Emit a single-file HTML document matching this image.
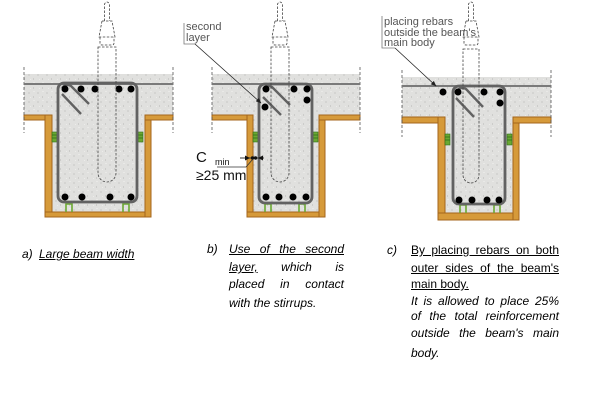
<!DOCTYPE html>
<html><head><meta charset="utf-8"><style>
html,body{margin:0;padding:0;background:#fff;}
#w{position:relative;width:600px;height:400px;overflow:hidden;background:#fff;}
svg{position:absolute;left:0;top:0;}
.t{position:absolute;font-family:"Liberation Sans",Arial,sans-serif;font-size:12px;line-height:14px;color:#000;white-space:nowrap;}
.i{font-style:italic;}
.j{text-align:justify;text-align-last:justify;white-space:normal;}
.u{text-decoration:underline;}
</style></head><body><div id="w">
<svg width="600" height="400" viewBox="0 0 600 400" xmlns="http://www.w3.org/2000/svg">
<defs>
<pattern id="cc" width="9" height="9" patternUnits="userSpaceOnUse">
<rect width="9" height="9" fill="#e0e0de"/>
<circle cx="2" cy="3" r="0.6" fill="#b5b5b3"/>
<circle cx="6.5" cy="7" r="0.5" fill="#a9a9a7"/>
<circle cx="7" cy="1.5" r="0.6" fill="#f2f2f0"/>
<circle cx="3.5" cy="7.5" r="0.5" fill="#f0f0ee"/>
</pattern>
<marker id="ah" viewBox="0 0 10 10" refX="9" refY="5" markerWidth="7" markerHeight="7" orient="auto"><path d="M0,1 L10,5 L0,9 Z" fill="#222"/></marker>
</defs>

<!-- ===== Beam a ===== -->
<path d="M24,74 H173 V115 H145 V212 H52 V115 H24 Z" fill="url(#cc)"/>
<g fill="#d69a3a" stroke="#a4661c" stroke-width="1">
<rect x="24" y="115" width="28" height="5"/>
<rect x="45" y="115" width="7" height="102"/>
<rect x="45" y="212" width="106" height="5"/>
<rect x="145" y="115" width="6" height="102"/>
<rect x="145" y="115" width="28" height="5"/>
</g>
<g stroke="#555" stroke-width="0.8" stroke-dasharray="3,2"><line x1="24" y1="67" x2="24" y2="133"/><line x1="173" y1="67" x2="173" y2="133"/></g>
<line x1="24" y1="84" x2="173" y2="84" stroke="#7a7a7a" stroke-width="2"/>
<g fill="#6aa832" stroke="#2f6e1a" stroke-width="0.6"><rect x="52" y="132" width="5" height="10"/><rect x="138" y="132" width="5" height="10"/></g>
<g stroke="#2f6e1a" stroke-width="0.8"><line x1="52" y1="135" x2="57" y2="135"/><line x1="52" y1="138" x2="57" y2="138"/><line x1="138" y1="135" x2="143" y2="135"/><line x1="138" y1="138" x2="143" y2="138"/></g>
<g fill="none" stroke="#6aa832" stroke-width="1.6"><path d="M66,212 V204 H72 V212"/><path d="M123,212 V204 H129 V212"/></g>
<rect x="58" y="83" width="79" height="119" rx="6" fill="none" stroke="#626262" stroke-width="2.8"/>
<g fill="none" stroke="#626262" stroke-width="2.4"><path d="M62,88 Q66,83 71,86 L89,104"/><path d="M62,94 L81,114"/></g>
<g fill="#000"><circle cx="65" cy="89" r="3.5"/><circle cx="81" cy="89" r="3.5"/><circle cx="95" cy="89" r="3.5"/><circle cx="119" cy="89" r="3.5"/><circle cx="131" cy="89" r="3.5"/>
<circle cx="65" cy="197" r="3.5"/><circle cx="82" cy="197" r="3.5"/><circle cx="110" cy="197" r="3.5"/><circle cx="131" cy="197" r="3.5"/></g>
<g fill="none" stroke="#444" stroke-width="0.8" stroke-dasharray="2.5,1.5">
<path d="M104.5,21 V4 Q107,0 109.5,4 V21"/>
<path d="M102,21 H112 L115,37 H99 Z"/>
<path d="M100,37 V43 Q100,45 102,45 H112 Q114,45 114,43 V37"/>
<path d="M98,47 H116 V173 A9,9 0 0 1 98,173 Z"/>
</g>

<!-- ===== Beam b ===== -->
<path d="M212,74 H360 V115 H319 V212 H253 V115 H212 Z" fill="url(#cc)"/>
<g fill="#d69a3a" stroke="#a4661c" stroke-width="1">
<rect x="212" y="115" width="41" height="5"/>
<rect x="247" y="115" width="6" height="102"/>
<rect x="247" y="212" width="78" height="5"/>
<rect x="319" y="115" width="6" height="102"/>
<rect x="319" y="115" width="41" height="5"/>
</g>
<g stroke="#555" stroke-width="0.8" stroke-dasharray="3,2"><line x1="212" y1="67" x2="212" y2="133"/><line x1="360" y1="67" x2="360" y2="133"/></g>
<line x1="212" y1="84" x2="360" y2="84" stroke="#7a7a7a" stroke-width="2"/>
<g fill="#6aa832" stroke="#2f6e1a" stroke-width="0.6"><rect x="253" y="132" width="5" height="10"/><rect x="313" y="132" width="5" height="10"/></g>
<g stroke="#2f6e1a" stroke-width="0.8"><line x1="253" y1="135" x2="258" y2="135"/><line x1="253" y1="138" x2="258" y2="138"/><line x1="313" y1="135" x2="318" y2="135"/><line x1="313" y1="138" x2="318" y2="138"/></g>
<g fill="none" stroke="#6aa832" stroke-width="1.6"><path d="M265,212 V204 H271 V212"/><path d="M299,212 V204 H305 V212"/></g>
<rect x="259" y="84" width="53" height="119" rx="6" fill="none" stroke="#626262" stroke-width="2.8"/>
<g fill="none" stroke="#626262" stroke-width="2.4"><path d="M263,89 Q267,84 272,87 L290,105"/><path d="M263,97 L281,115"/></g>
<g fill="#000"><circle cx="266" cy="89" r="3.5"/><circle cx="294" cy="89" r="3.5"/><circle cx="307" cy="89" r="3.5"/><circle cx="307" cy="100" r="3.5"/><circle cx="265" cy="107" r="3.5"/>
<circle cx="266" cy="197" r="3.5"/><circle cx="279" cy="197" r="3.5"/><circle cx="293" cy="197" r="3.5"/><circle cx="306" cy="197" r="3.5"/></g>
<g fill="none" stroke="#444" stroke-width="0.8" stroke-dasharray="2.5,1.5">
<path d="M277.5,21 V4 Q280,0 282.5,4 V21"/>
<path d="M275,21 H285 L288,37 H272 Z"/>
<path d="M273,37 V43 Q273,45 275,45 H285 Q287,45 287,43 V37"/>
<path d="M271,47 H289 V173 A9,9 0 0 1 271,173 Z"/>
</g>
<!-- second layer label -->
<g font-family="Liberation Sans, Arial, sans-serif" font-size="11" fill="#555"><text x="186" y="30">second</text><text x="186" y="41">layer</text></g>
<polyline points="184,23 184,44 195,44" fill="none" stroke="#777" stroke-width="0.8"/>
<line x1="195" y1="44" x2="261" y2="103" stroke="#222" stroke-width="0.8" marker-end="url(#ah)"/>
<!-- Cmin -->
<g font-family="Liberation Sans, Arial, sans-serif" fill="#111"><text x="196" y="162" font-size="15">C</text><text x="215" y="165" font-size="9">min</text><text x="196" y="180" font-size="14">≥25 mm</text></g>
<line x1="240" y1="158" x2="264" y2="158" stroke="#333" stroke-width="0.9"/>
<path d="M245,155.5 L250,158 L245,160.5 Z M263,155.5 L258,158 L263,160.5 Z" fill="#111"/>
<circle cx="252.5" cy="158" r="1.7" fill="#111"/><circle cx="255.5" cy="158" r="1.7" fill="#111"/>
<polyline points="217,167 246,167 253,159" fill="none" stroke="#333" stroke-width="0.8"/>

<!-- ===== Beam c ===== -->
<path d="M402,77 H551 V117 H519 V213 H445 V117 H402 Z" fill="url(#cc)"/>
<g fill="#d69a3a" stroke="#a4661c" stroke-width="1">
<rect x="402" y="117" width="43" height="6"/>
<rect x="438" y="117" width="7" height="103"/>
<rect x="438" y="213" width="81" height="7"/>
<rect x="513" y="117" width="6" height="103"/>
<rect x="513" y="117" width="38" height="6"/>
</g>
<g stroke="#555" stroke-width="0.8" stroke-dasharray="3,2"><line x1="402" y1="70" x2="402" y2="137"/><line x1="551" y1="70" x2="551" y2="137"/></g>
<line x1="402" y1="86" x2="551" y2="86" stroke="#7a7a7a" stroke-width="2"/>
<g fill="#6aa832" stroke="#2f6e1a" stroke-width="0.6"><rect x="445" y="134" width="5" height="11"/><rect x="507" y="134" width="5" height="11"/></g>
<g stroke="#2f6e1a" stroke-width="0.8"><line x1="445" y1="137" x2="450" y2="137"/><line x1="445" y1="140" x2="450" y2="140"/><line x1="507" y1="137" x2="512" y2="137"/><line x1="507" y1="140" x2="512" y2="140"/></g>
<g fill="none" stroke="#6aa832" stroke-width="1.6"><path d="M460,213 V205 H466 V213"/><path d="M494,213 V205 H500 V213"/></g>
<rect x="453" y="86" width="52" height="118" rx="6" fill="none" stroke="#626262" stroke-width="2.8"/>
<g fill="none" stroke="#626262" stroke-width="2.4"><path d="M457,91 Q461,86 466,89 L483,107"/><path d="M456,98 L474,117"/></g>
<g fill="#000"><circle cx="443" cy="92" r="3.5"/><circle cx="458" cy="92" r="3.5"/><circle cx="484" cy="92" r="3.5"/><circle cx="500" cy="92" r="3.5"/><circle cx="500" cy="103" r="3.5"/>
<circle cx="459" cy="200" r="3.5"/><circle cx="472" cy="200" r="3.5"/><circle cx="487" cy="200" r="3.5"/><circle cx="499" cy="200" r="3.5"/></g>
<g fill="none" stroke="#444" stroke-width="0.8" stroke-dasharray="2.5,1.5">
<path d="M468.5,21 V4 Q471,0 473.5,4 V21"/>
<path d="M466,21 H476 L479,37 H463 Z"/>
<path d="M464,37 V43 Q464,45 466,45 H476 Q478,45 478,43 V37"/>
<path d="M463,49 H479 V175 A8,8 0 0 1 463,175 Z"/>
</g>
<g font-family="Liberation Sans, Arial, sans-serif" font-size="11" fill="#555"><text x="384" y="25">placing rebars</text><text x="384" y="36">outside the beam's</text><text x="384" y="46">main body</text></g>
<polyline points="382,16 382,48 395,48" fill="none" stroke="#777" stroke-width="0.8"/>
<line x1="395" y1="48" x2="436" y2="86" stroke="#222" stroke-width="0.8" marker-end="url(#ah)"/>
</svg>

<!-- captions -->
<div class="t i" style="left:22px;top:247px;">a)</div>
<div class="t i u" style="left:39px;top:247px;">Large beam width</div>

<div class="t i" style="left:207px;top:242px;">b)</div>
<div class="t i j" style="left:229px;top:242px;width:115px;"><span class="u">Use of the second</span></div>
<div class="t i j" style="left:229px;top:260px;width:115px;"><span class="u">layer,</span> which is</div>
<div class="t i j" style="left:229px;top:277px;width:115px;">placed in contact</div>
<div class="t i" style="left:229px;top:296px;">with the stirrups.</div>

<div class="t i" style="left:387px;top:243px;">c)</div>
<div class="t j" style="left:411px;top:243px;width:148px;"><span class="u">By placing rebars on both</span></div>
<div class="t j" style="left:411px;top:261px;width:148px;"><span class="u">outer sides of the beam's</span></div>
<div class="t u" style="left:411px;top:277px;">main body.</div>
<div class="t i j" style="left:411px;top:294px;width:148px;">It is allowed to place 25%</div>
<div class="t i j" style="left:411px;top:309px;width:148px;">of the total reinforcement</div>
<div class="t i j" style="left:411px;top:326px;width:148px;">outside the beam's main</div>
<div class="t i" style="left:411px;top:346px;">body.</div>
</div></body></html>
